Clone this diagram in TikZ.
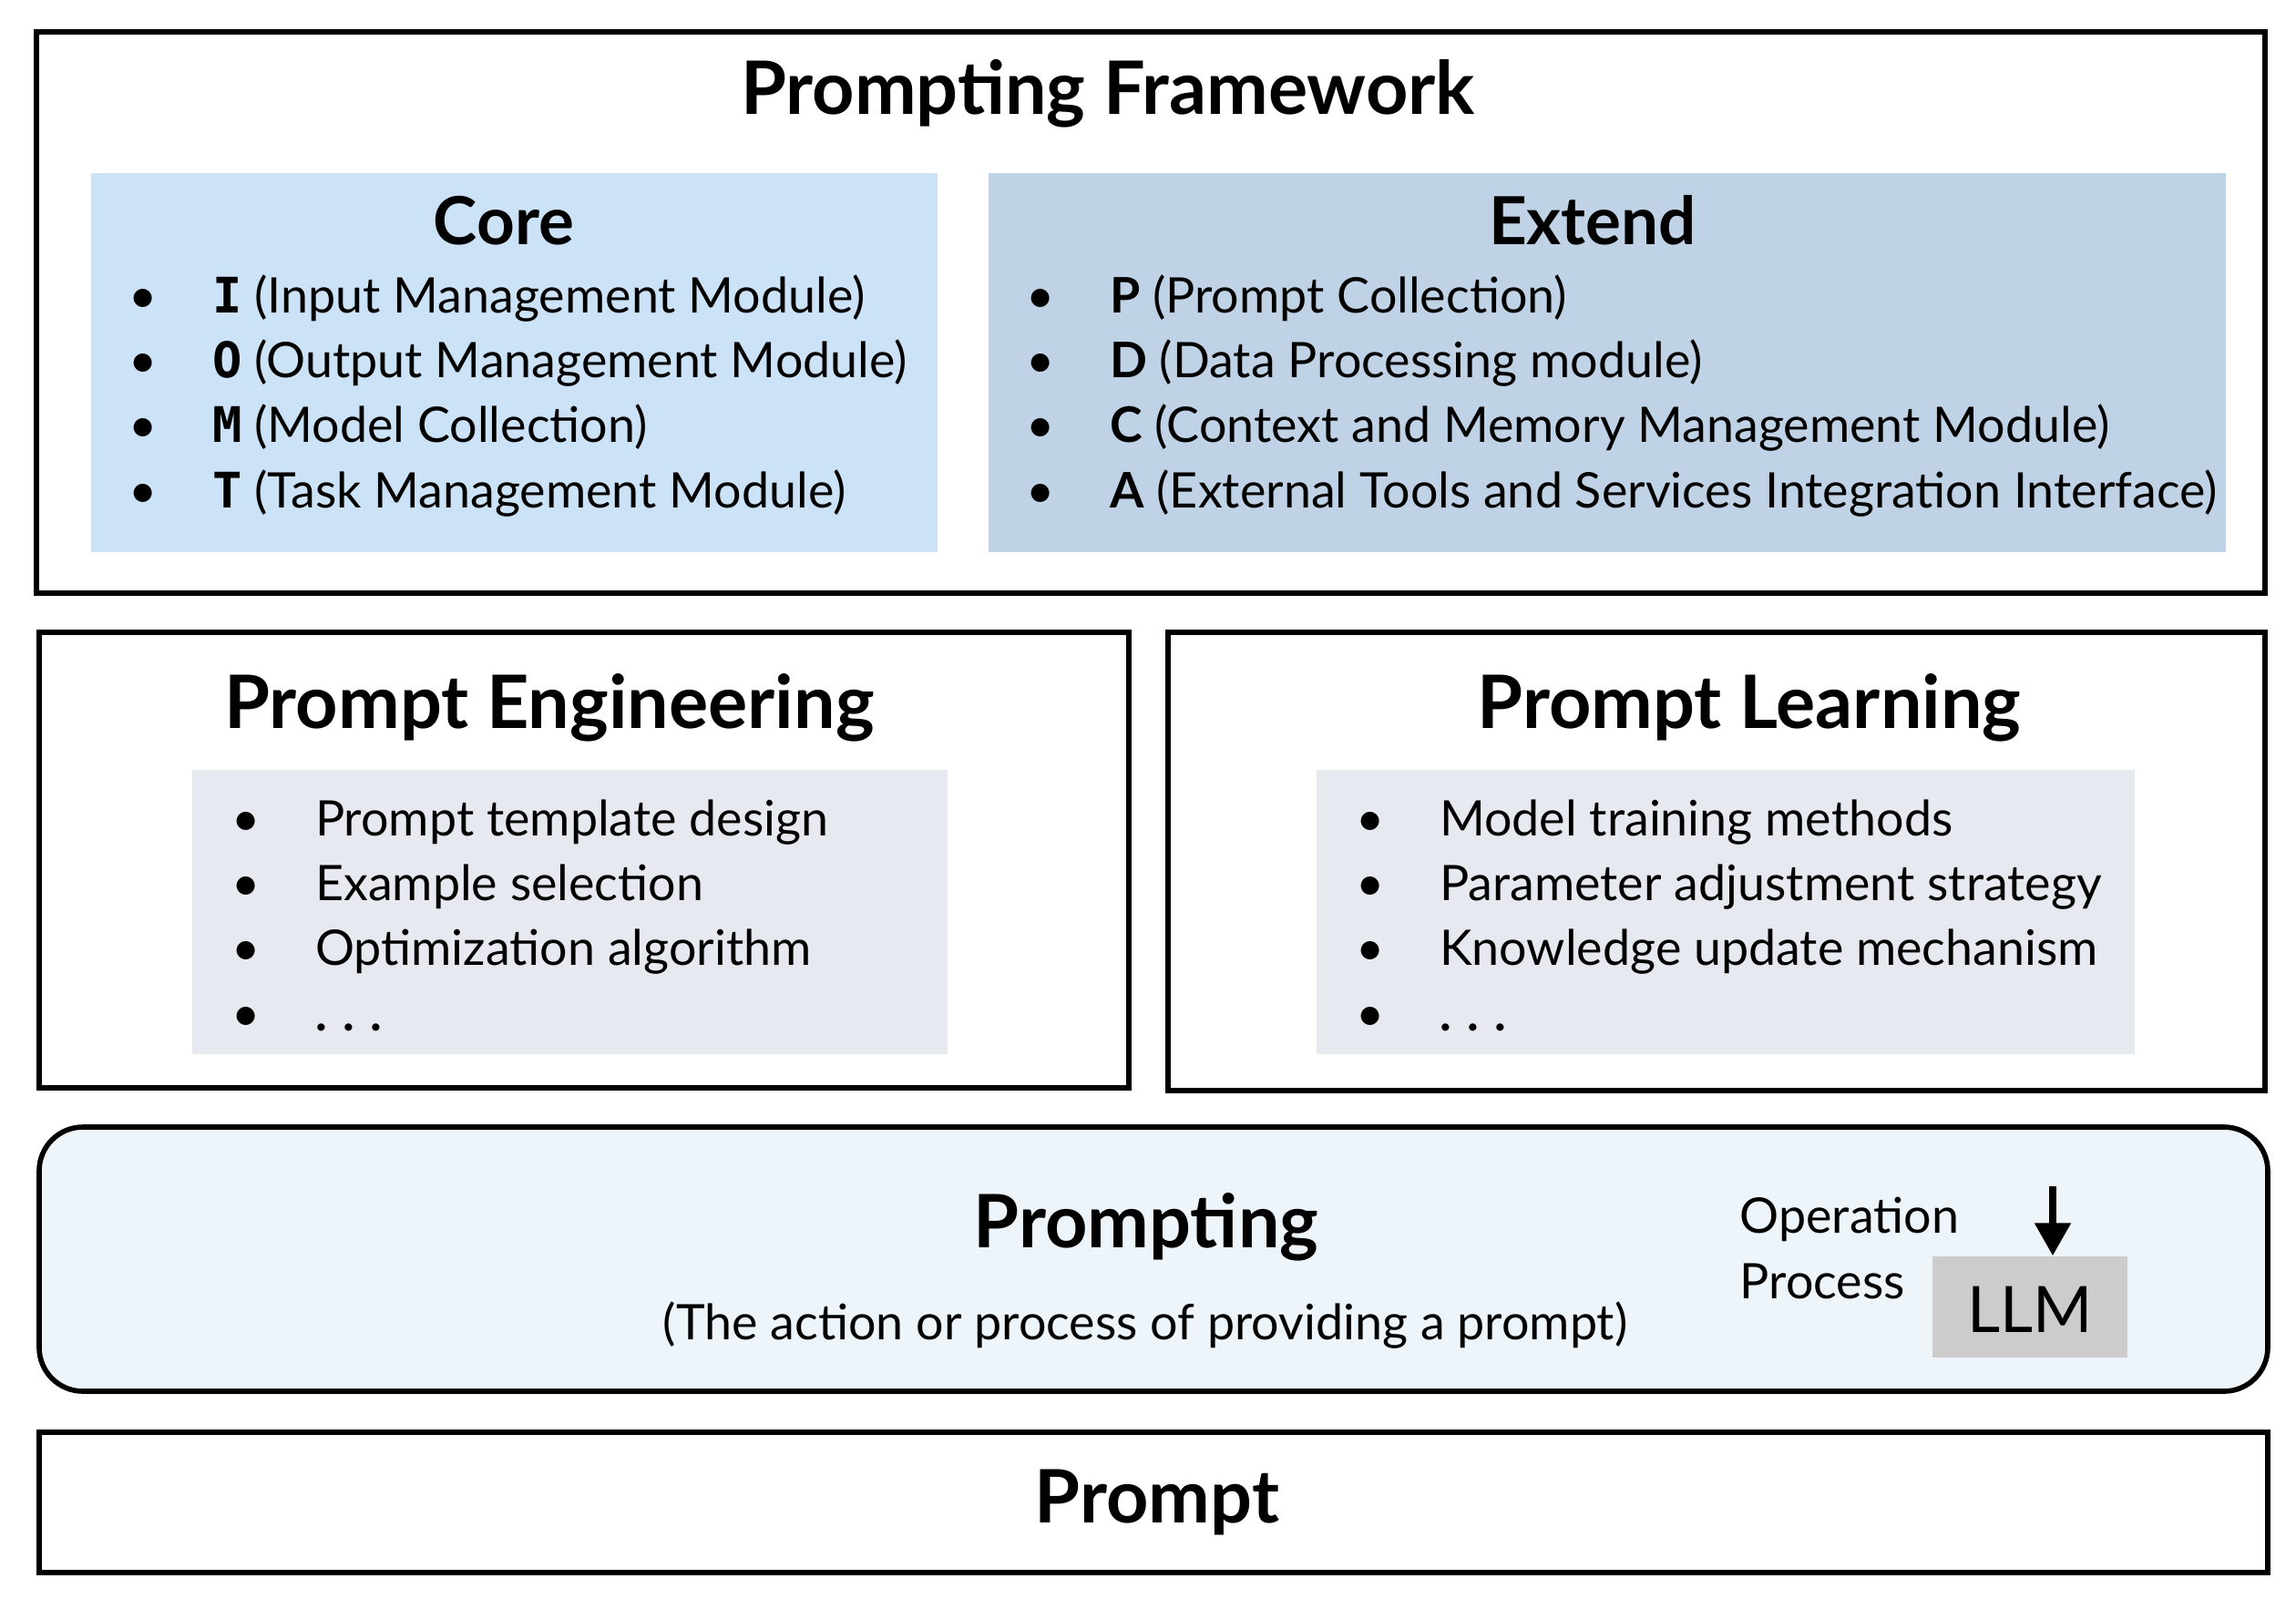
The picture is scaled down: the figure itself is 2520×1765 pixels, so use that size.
\documentclass[tikz,border=0pt]{standalone}
\usepackage{fontspec}
\setmainfont{Lato}
\newfontfamily\keyfont{DejaVu Sans Mono}
\usetikzlibrary{positioning,fit,arrows.meta}

\definecolor{coreblue}{RGB}{204,226,247}
\definecolor{extendblue}{RGB}{191,210,230}
\definecolor{listgray}{RGB}{230,234,240}
\definecolor{promptingblue}{RGB}{238,245,250}
\definecolor{llmgray}{RGB}{204,204,204}

\tikzset{
  frame/.style={draw=black, line width=1.6pt, inner sep=0pt},
  panel/.style={inner sep=0pt},
  heading/.style={font=\fontsize{23}{27}\selectfont\bfseries, inner sep=0pt, anchor=base},
  subheading/.style={font=\fontsize{20.7}{25}\selectfont\bfseries, inner sep=0pt, anchor=base},
  items/.style={font=\fontsize{15.3}{20.2}\selectfont, align=left, inner sep=0pt, anchor=base west},
}
\newcommand{\itm}[1]{\makebox[26pt][l]{\textbullet}#1}
\newcommand{\key}[1]{{\keyfont\bfseries #1}}
\newcommand{\moredots}{\textbf{.\hspace{0.32em}.\hspace{0.32em}.}}

\begin{document}
\begin{tikzpicture}[x=0.01cm, y=-0.01cm]
\useasboundingbox (0,0) rectangle (2520,1765);

\node[frame, fit={(40,35) (2486,651)}] (framework) {};
\node[heading] (frameworktitle) at (1216,125) {Prompting Framework};

\node[panel, fill=coreblue, fit={(100,190) (1029,606)}] (core) {};
\node[subheading] (coretitle) at (553,268) {Core};
\node[items] (corelist) at (141,557) {\itm{\key{I} (Input Management Module)}\\
  \itm{\key{O} (Output Management Module)}\\
  \itm{\key{M} (Model Collection)}\\
  \itm{\key{T} (Task Management Module)}};

\node[panel, fill=extendblue, fit={(1085,190) (2443,606)}] (extend) {};
\node[subheading] (extendtitle) at (1748,268) {Extend};
\node[items] (extendlist) at (1126,557) {\itm{\textbf{P} (Prompt Collection)}\\
  \itm{\textbf{D} (Data Processing module)}\\
  \itm{\textbf{C} (Context and Memory Management Module)}\\
  \itm{\textbf{A} (External Tools and Services Integration Interface)}};

\node[frame, fit={(43,694) (1239,1194)}] (engineering) {};
\node[heading] (engineeringtitle) at (603,799) {Prompt Engineering};
\node[panel, fill=listgray, fit={(211,845) (1040,1157)}] (engineeringbox) {};
\node[items] (engineeringlist) at (254,1131) {\itm{Prompt template design}\\
  \itm{Example selection}\\
  \itm{Optimization algorithm}\\
  \itm{\moredots}};

\node[frame, fit={(1282,694) (2486,1197)}] (learning) {};
\node[heading] (learningtitle) at (1920,799) {Prompt Learning};
\node[panel, fill=listgray, fit={(1445,845) (2343,1157)}] (learningbox) {};
\node[items] (learninglist) at (1488,1131) {\itm{Model training methods}\\
  \itm{Parameter adjustment strategy}\\
  \itm{Knowledge update mechanism}\\
  \itm{\moredots}};

\node[frame, fill=promptingblue, rounded corners=4.8mm, fit={(43,1237) (2489,1527)}] (prompting) {};
\node[heading] (promptingtitle) at (1258,1369) {Prompting};
\node[items, anchor=base] (promptingnote) at (1257,1470) {(The action or process of providing a prompt)};
\node[items] (operation) at (1909,1425) {Operation\\Process};
\node[panel, fill=llmgray, fit={(2121,1379) (2335,1490)}] (llm) {};
\node[font=\fontsize{20}{24}\selectfont, inner sep=0pt, anchor=base] (llmtext) at (2228,1462) {LLM};
\coordinate (llmin) at (2253,1302);
\draw[line width=2.4pt, -{Triangle[width=3.8mm,length=3.6mm]}] (llmin) -- (llmin |- llm.north);

\node[frame, fit={(43,1572) (2489,1726)}] (prompt) {};
\node[heading] (prompttitle) at (1270,1671) {Prompt};

\end{tikzpicture}
\end{document}
